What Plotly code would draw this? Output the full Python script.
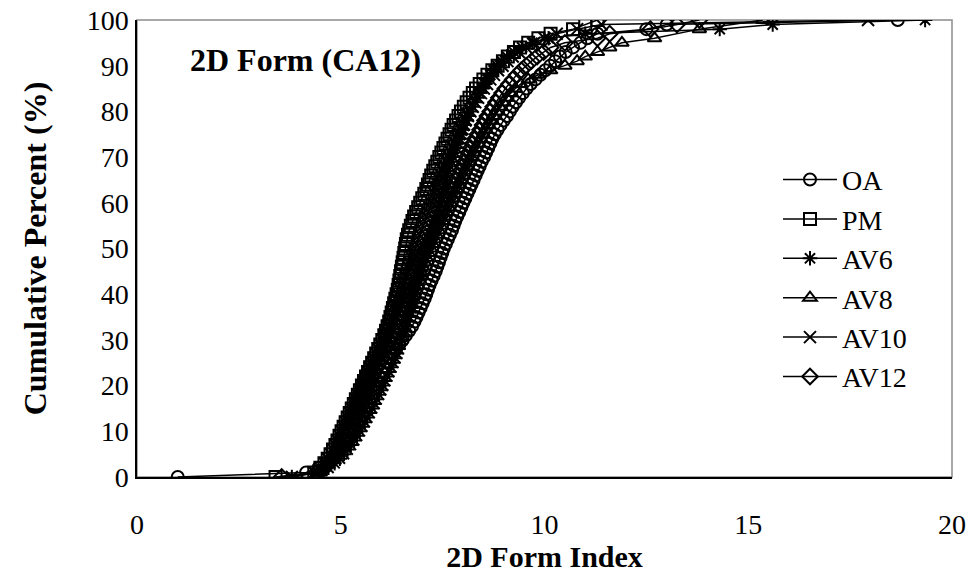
import plotly.graph_objects as go

# Cumulative percent levels (typed out) and 2D Form Index values
PCT = [0, 1, 2, 3, 4, 5, 6, 7, 8, 9,
       10, 11, 12, 13, 14, 15, 16, 17, 18, 19,
       20, 21, 22, 23, 24, 25, 26, 27, 28, 29,
       30, 31, 32, 33, 34, 35, 36, 37, 38, 39,
       40, 41, 42, 43, 44, 45, 46, 47, 48, 49,
       50, 51, 52, 53, 54, 55, 56, 57, 58, 59,
       60, 61, 62, 63, 64, 65, 66, 67, 68, 69,
       70, 71, 72, 73, 74, 75, 76, 77, 78, 79,
       80, 81, 82, 83, 84, 85, 86, 87, 88, 89,
       90, 91, 92, 93, 94, 95, 96, 97, 98, 99,
       100]

OA_x = [1.00, 4.15, 4.45, 4.65, 4.78, 4.88, 4.96, 5.04, 5.10, 5.16,
        5.22, 5.28, 5.33, 5.39, 5.45, 5.50, 5.56, 5.62, 5.68, 5.74,
        5.80, 5.86, 5.93, 6.00, 6.07, 6.14, 6.21, 6.28, 6.36, 6.44,
        6.52, 6.60, 6.68, 6.75, 6.81, 6.86, 6.91, 6.96, 7.01, 7.06,
        7.10, 7.14, 7.18, 7.23, 7.28, 7.33, 7.37, 7.41, 7.45, 7.49,
        7.53, 7.58, 7.63, 7.68, 7.73, 7.77, 7.81, 7.86, 7.91, 7.96,
        8.01, 8.06, 8.11, 8.16, 8.21, 8.26, 8.31, 8.36, 8.41, 8.46,
        8.52, 8.57, 8.62, 8.67, 8.72, 8.78, 8.85, 8.92, 9.00, 9.08,
        9.15, 9.22, 9.30, 9.38, 9.47, 9.56, 9.66, 9.78, 9.90, 10.02,
        10.14, 10.26, 10.38, 10.52, 10.70, 10.88, 11.05, 11.30, 12.50, 13.00,
        18.67]

PM_x = [3.40, 4.35, 4.50, 4.60, 4.68, 4.75, 4.81, 4.87, 4.92, 4.97,
        5.02, 5.07, 5.12, 5.17, 5.22, 5.27, 5.32, 5.37, 5.42, 5.47,
        5.52, 5.57, 5.62, 5.67, 5.72, 5.77, 5.82, 5.87, 5.92, 5.97,
        6.02, 6.07, 6.11, 6.15, 6.19, 6.22, 6.25, 6.28, 6.31, 6.34,
        6.37, 6.40, 6.42, 6.44, 6.46, 6.48, 6.50, 6.52, 6.54, 6.56,
        6.58, 6.60, 6.62, 6.65, 6.68, 6.72, 6.76, 6.80, 6.85, 6.90,
        6.95, 7.00, 7.05, 7.10, 7.14, 7.18, 7.22, 7.27, 7.32, 7.37,
        7.42, 7.47, 7.52, 7.57, 7.62, 7.67, 7.72, 7.77, 7.83, 7.89,
        7.95, 8.02, 8.09, 8.16, 8.24, 8.32, 8.41, 8.50, 8.60, 8.72,
        8.85, 8.98, 9.10, 9.25, 9.40, 9.60, 9.85, 10.15, 10.70, 11.00,
        11.30]

AV6_x = [3.80, 4.45, 4.70, 4.85, 4.98, 5.08, 5.17, 5.25, 5.33, 5.40,
         5.47, 5.53, 5.59, 5.65, 5.71, 5.77, 5.83, 5.88, 5.94, 5.99,
         6.04, 6.09, 6.14, 6.19, 6.24, 6.29, 6.34, 6.38, 6.42, 6.46,
         6.50, 6.54, 6.58, 6.61, 6.64, 6.67, 6.70, 6.73, 6.76, 6.79,
         6.82, 6.85, 6.88, 6.91, 6.94, 6.97, 7.00, 7.03, 7.06, 7.09,
         7.12, 7.15, 7.18, 7.21, 7.24, 7.27, 7.30, 7.33, 7.36, 7.39,
         7.42, 7.45, 7.48, 7.51, 7.54, 7.57, 7.60, 7.64, 7.68, 7.72,
         7.76, 7.80, 7.84, 7.88, 7.92, 7.96, 8.00, 8.04, 8.09, 8.14,
         8.19, 8.24, 8.29, 8.35, 8.41, 8.47, 8.53, 8.60, 8.67, 8.75,
         8.84, 8.95, 9.08, 9.25, 9.45, 9.70, 10.10, 11.00, 14.30, 15.60,
         19.34]

AV8_x = [4.40, 4.50, 4.58, 4.66, 4.74, 4.81, 4.88, 4.94, 5.00, 5.06,
         5.12, 5.18, 5.23, 5.28, 5.33, 5.38, 5.43, 5.48, 5.53, 5.58,
         5.63, 5.68, 5.73, 5.78, 5.83, 5.88, 5.93, 5.98, 6.03, 6.08,
         6.13, 6.18, 6.23, 6.28, 6.33, 6.38, 6.43, 6.48, 6.54, 6.60,
         6.65, 6.71, 6.77, 6.83, 6.89, 6.95, 7.00, 7.05, 7.10, 7.15,
         7.20, 7.25, 7.30, 7.35, 7.40, 7.45, 7.50, 7.55, 7.60, 7.65,
         7.70, 7.75, 7.80, 7.85, 7.90, 7.95, 8.00, 8.05, 8.10, 8.15,
         8.20, 8.26, 8.32, 8.38, 8.44, 8.50, 8.56, 8.62, 8.68, 8.75,
         8.82, 8.90, 8.98, 9.07, 9.17, 9.28, 9.42, 9.60, 9.85, 10.15,
         10.50, 10.80, 11.00, 11.30, 11.60, 11.90, 12.70, 13.80, 15.36]
AV8_y = [0, 1, 2, 3, 4, 5, 6, 7, 8, 9,
         10, 11, 12, 13, 14, 15, 16, 17, 18, 19,
         20, 21, 22, 23, 24, 25, 26, 27, 28, 29,
         30, 31, 32, 33, 34, 35, 36, 37, 38, 39,
         40, 41, 42, 43, 44, 45, 46, 47, 48, 49,
         50, 51, 52, 53, 54, 55, 56, 57, 58, 59,
         60, 61, 62, 63, 64, 65, 66, 67, 68, 69,
         70, 71, 72, 73, 74, 75, 76, 77, 78, 79,
         80, 81, 82, 83, 84, 85, 86, 87, 88, 89,
         90, 91, 92, 93, 94, 95, 96, 98, 100]

AV10_x = [3.80, 4.35, 4.50, 4.60, 4.68, 4.75, 4.81, 4.87, 4.92, 4.97,
          5.02, 5.07, 5.12, 5.17, 5.22, 5.27, 5.32, 5.37, 5.42, 5.47,
          5.52, 5.57, 5.62, 5.67, 5.72, 5.77, 5.82, 5.87, 5.92, 5.97,
          6.02, 6.06, 6.10, 6.14, 6.18, 6.22, 6.26, 6.30, 6.34, 6.38,
          6.42, 6.46, 6.50, 6.54, 6.58, 6.62, 6.66, 6.70, 6.74, 6.78,
          6.82, 6.86, 6.90, 6.94, 6.98, 7.02, 7.06, 7.10, 7.14, 7.18,
          7.22, 7.26, 7.30, 7.34, 7.38, 7.42, 7.46, 7.50, 7.55, 7.60,
          7.65, 7.70, 7.75, 7.80, 7.85, 7.90, 7.95, 8.00, 8.06, 8.12,
          8.18, 8.24, 8.30, 8.37, 8.44, 8.51, 8.59, 8.67, 8.76, 8.86,
          8.97, 9.09, 9.22, 9.37, 9.55, 9.75, 10.00, 10.30, 10.80, 11.40,
          17.94]

AV12_x = [3.55, 4.40, 4.60, 4.72, 4.82, 4.90, 4.97, 5.03, 5.09, 5.15,
          5.20, 5.25, 5.30, 5.35, 5.40, 5.45, 5.50, 5.55, 5.60, 5.65,
          5.70, 5.75, 5.80, 5.85, 5.90, 5.95, 6.00, 6.05, 6.10, 6.15,
          6.20, 6.25, 6.30, 6.35, 6.39, 6.43, 6.47, 6.51, 6.55, 6.59,
          6.63, 6.67, 6.71, 6.75, 6.79, 6.84, 6.89, 6.94, 6.99, 7.04,
          7.09, 7.14, 7.19, 7.24, 7.29, 7.34, 7.39, 7.44, 7.49, 7.54,
          7.59, 7.64, 7.69, 7.74, 7.79, 7.84, 7.89, 7.94, 7.99, 8.04,
          8.09, 8.14, 8.19, 8.24, 8.30, 8.36, 8.42, 8.48, 8.54, 8.60,
          8.67, 8.74, 8.81, 8.88, 8.96, 9.04, 9.13, 9.22, 9.32, 9.43,
          9.55, 9.68, 9.82, 9.98, 10.15, 10.50, 11.30, 11.60, 12.60, 13.25,
          13.80]

series = [
    ("OA", OA_x, PCT, "circle-open"),
    ("PM", PM_x, PCT, "square-open"),
    ("AV6", AV6_x, PCT, "asterisk-open"),
    ("AV8", AV8_x, AV8_y, "triangle-up-open"),
    ("AV10", AV10_x, PCT, "x-thin-open"),
    ("AV12", AV12_x, PCT, "diamond-open"),
]

x_ticks = [0, 5, 10, 15, 20]
y_ticks = [0, 10, 20, 30, 40, 50, 60, 70, 80, 90, 100]

FONT = "Liberation Serif, Times New Roman, serif"

fig = go.Figure()
for name, xs, ys, sym in series:
    fig.add_trace(go.Scatter(
        x=xs, y=ys, name=name, mode="lines+markers",
        line=dict(color="black", width=1.5),
        marker=dict(symbol=sym, size=12, color="black", line=dict(color="black", width=2.0)),
    ))

fig.update_layout(
    width=974, height=579,
    margin=dict(l=137, r=22, t=20, b=102),
    paper_bgcolor="white", plot_bgcolor="white",
    font=dict(family=FONT, size=28, color="black"),
    showlegend=True,
    legend=dict(x=0.7865, y=0.705, xanchor="left", yanchor="top",
                bgcolor="rgba(0,0,0,0)", font=dict(size=28), tracegroupgap=0,
                itemwidth=54),
    shapes=[dict(type="rect", xref="paper", yref="paper", x0=0, y0=0, x1=1, y1=1,
                 line=dict(color="#8c8c8c", width=1.5), layer="below")],
    annotations=[dict(text="<b>2D Form (CA12)</b>", xref="paper", yref="paper",
                      x=0.0626, y=0.912, xanchor="left", yanchor="middle",
                      showarrow=False, font=dict(size=32, family=FONT))],
)
fig.update_xaxes(range=[0, 20], tickvals=x_ticks, showgrid=False, zeroline=False,
                 showline=True, linecolor="black", linewidth=1.5, ticks="",
                 ticklabelstandoff=22, automargin=False,
                 title=dict(text="<b>2D Form Index</b>", font=dict(size=30), standoff=4))
fig.update_yaxes(range=[0, 100], tickvals=y_ticks, showgrid=False, zeroline=False,
                 showline=True, linecolor="black", linewidth=1.5, ticks="",
                 ticklabelstandoff=1, automargin=False,
                 title=dict(text="<b>Cumulative Percent (%)</b>", font=dict(size=32), standoff=30))

fig.write_html("out.html")
